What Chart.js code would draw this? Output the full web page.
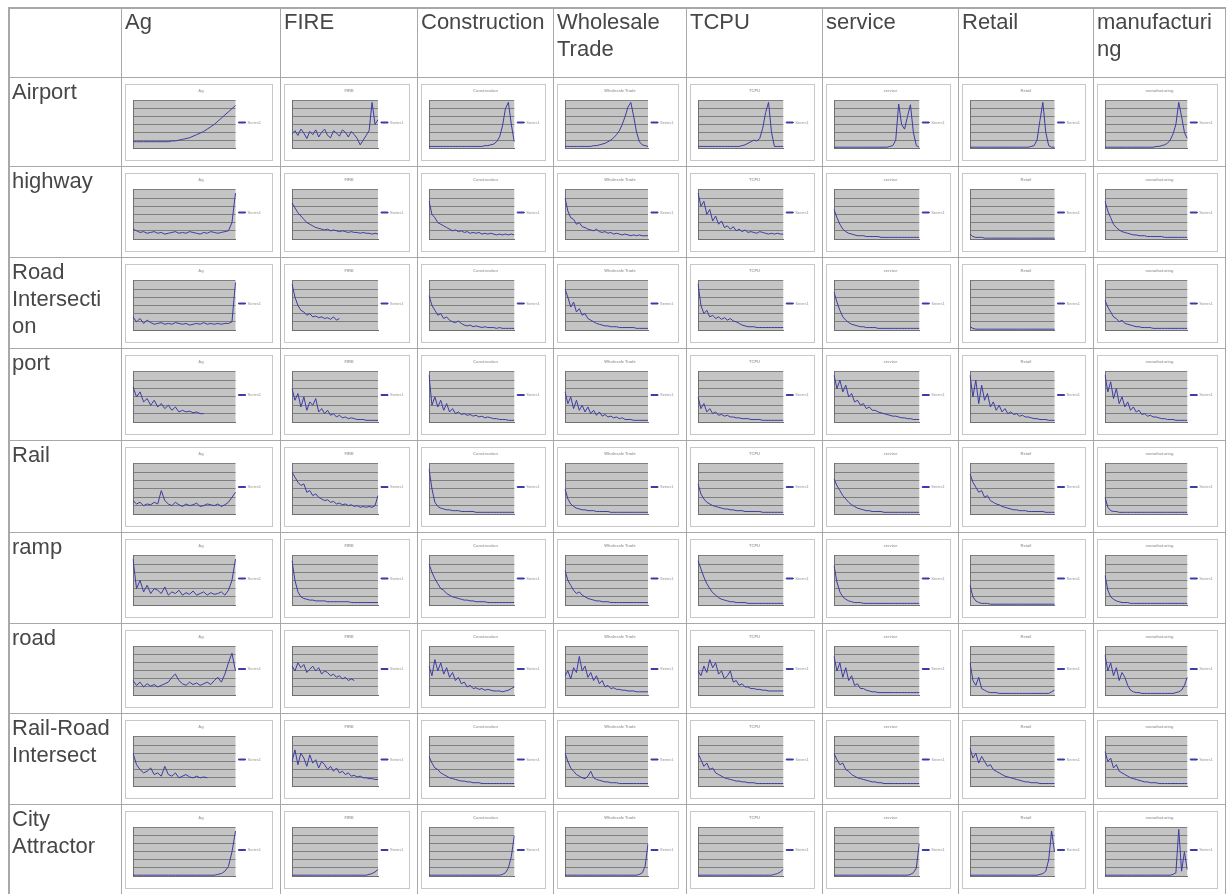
<!DOCTYPE html>
<html><head><meta charset="utf-8">
<script src="https://cdn.jsdelivr.net/npm/chart.js@4.4.1/dist/chart.umd.min.js"></script>
<style>
html,body{margin:0;padding:0;background:#fff;}
body{width:1227px;height:894px;position:relative;overflow:hidden;font-family:"Liberation Sans",Arial,sans-serif;}
#page{position:absolute;left:0;top:0;width:1227px;height:894px;filter:blur(0.35px);}
.hl{position:absolute;height:1px;background:#a8a8a8;}
.vl{position:absolute;width:1px;background:#a8a8a8;}
.lbl{position:absolute;font-size:22px;line-height:27px;color:#474747;white-space:nowrap;}
.box{position:absolute;border:1px solid #c8c8c8;background:#fff;box-sizing:border-box;}
.box canvas{display:block;}
</style></head><body><div id="page"></div>
<script>
// ---- categories / labels ----
const columnNames = ['Ag','FIRE','Construction','Wholesale Trade','TCPU','service','Retail','manufacturing'];
const columnLines = [['Ag'],['FIRE'],['Construction'],['Wholesale','Trade'],['TCPU'],['service'],['Retail'],['manufacturi','ng']];
const rowNames = ['Airport','highway','Road Intersection','port','Rail','ramp','road','Rail-Road Intersect','City Attractor'];
const rowLines = [['Airport'],['highway'],['Road','Intersecti','on'],['port'],['Rail'],['ramp'],['road'],['Rail-Road','Intersect'],['City','Attractor']];
const xLabels = ['1','2','3','4','5','6','7','8','9','10','11','12','13','14','15','16','17','18','19','20','21','22','23','24','25','26','27','28','29','30'];
const yTicks = [0,10,20,30,40,50,60];

// ---- series values (one array per column, per row) ----
const airport = [
 [8,8,8,8,8,8,8,8,8,8,8,9,9,10,11,12,13,15,17,19,21,24,27,30,34,38,42,46,50,54],
 [18,22,16,24,19,12,21,17,23,14,20,24,16,13,22,19,15,23,20,14,21,17,12,4,10,16,22,58,30,36],
 [2,2,2,2,2,2,2,2,2,2,2,2,2,2,2,2,2,2,2,3,3,4,5,8,14,28,50,58,30,8],
 [2,2,2,2,2,2,2,2,2,2,3,3,4,5,6,8,10,13,17,22,30,40,52,58,40,20,8,4,3,2],
 [2,2,2,2,2,2,2,2,2,2,2,2,2,2,2,3,4,6,8,10,9,12,25,45,58,20,2,2,2,2],
 [1,1,1,1,1,1,1,1,1,1,1,1,1,1,1,1,1,1,1,2,3,10,56,30,24,40,55,20,3,1],
 [1,1,1,1,1,1,1,1,1,1,1,1,1,1,1,1,1,1,1,1,1,2,3,10,35,58,20,3,1,1],
 [1,1,1,1,1,1,1,1,1,1,1,1,1,1,1,1,1,1,2,2,3,4,6,10,18,30,58,40,20,12]
];
const highway = [
 [12,10,8,9,7,8,9,7,8,6,7,8,9,7,8,7,9,8,7,6,8,7,9,8,7,8,9,10,20,56],
 [44,38,32,28,24,20,18,16,14,13,12,11,12,10,11,10,9,10,9,8,9,8,8,7,8,7,7,6,7,6],
 [46,30,26,20,18,16,14,12,10,11,9,10,8,9,7,8,7,8,6,7,6,7,6,5,6,5,6,5,6,5],
 [50,34,26,24,18,20,15,14,12,11,10,12,9,8,9,7,8,6,7,6,5,6,5,4,5,4,5,4,4,4],
 [56,40,46,30,36,22,28,18,22,14,16,12,15,10,12,9,11,8,9,8,7,9,8,7,6,7,6,7,6,6],
 [36,26,18,12,9,7,6,5,4,4,4,3,3,3,3,3,2,2,2,2,2,2,2,2,2,2,2,2,2,2],
 [6,3,2,2,2,1,1,1,1,1,1,1,1,1,1,1,1,1,1,1,1,1,1,1,1,1,1,1,1,1],
 [46,34,26,18,14,11,9,8,7,6,5,5,4,4,4,3,3,3,3,3,3,2,2,2,2,2,2,2,2,2]
];
const roadIntersection = [
 [16,10,14,8,12,9,7,8,9,7,8,7,9,8,7,8,6,7,8,7,9,7,8,7,8,7,8,8,10,58],
 [56,40,30,24,22,18,20,16,17,15,16,14,15,13,16,12,14,null,null,null,null,null,null,null,null,null,null,null,null,null],
 [42,30,24,18,20,14,16,12,10,9,11,8,6,5,6,4,5,4,3,4,3,3,3,2,3,2,2,2,2,2],
 [50,40,28,34,22,26,18,20,14,12,10,8,7,6,5,5,4,4,4,3,3,3,3,3,3,2,2,2,2,2],
 [56,30,20,24,16,18,14,16,13,15,12,14,11,10,8,6,5,4,4,4,3,3,3,3,3,3,3,3,3,3],
 [46,34,24,16,12,9,7,6,5,4,4,3,3,3,3,2,2,2,2,2,2,2,2,2,2,2,2,2,2,2],
 [4,2,1,1,1,1,1,1,1,1,1,1,1,1,1,1,1,1,1,1,1,1,1,1,1,1,1,1,1,1],
 [36,28,22,16,14,10,12,8,7,6,5,4,4,3,3,3,3,2,2,2,2,2,2,2,2,2,2,2,2,2]
];
const port = [
 [42,30,36,24,28,20,26,18,22,16,20,14,18,12,14,12,13,11,12,10,10,null,null,null,null,null,null,null,null,null],
 [40,26,34,18,30,14,24,20,28,12,16,10,14,8,10,6,8,5,6,4,5,4,3,3,3,2,2,2,2,2],
 [56,20,30,18,26,14,22,12,16,10,12,9,10,8,9,7,8,6,7,5,6,5,4,4,3,3,3,2,2,2],
 [36,22,30,16,26,14,20,12,18,10,14,8,12,7,9,6,7,5,6,4,5,3,3,3,2,2,2,2,2,2],
 [30,16,22,12,16,10,12,8,9,7,8,6,6,5,5,4,4,4,3,3,3,3,2,2,2,2,2,2,2,2],
 [56,40,50,36,44,30,34,24,26,20,22,16,18,14,14,12,11,10,9,8,7,7,6,5,5,4,4,3,3,3],
 [56,30,50,22,44,26,34,18,24,14,20,12,16,10,12,9,10,7,8,6,6,5,4,4,3,3,3,2,2,2],
 [56,36,48,28,40,22,30,18,24,14,18,12,14,9,10,7,8,6,6,5,4,4,3,3,3,2,2,2,2,2]
];
const rail = [
 [16,12,14,10,12,11,14,12,28,16,12,10,14,11,9,12,10,11,13,9,10,12,11,10,12,9,11,14,20,26],
 [50,44,38,34,36,26,28,22,24,20,18,16,17,14,15,12,13,11,12,10,11,9,10,8,9,8,9,8,10,22],
 [54,30,14,9,7,6,5,5,4,4,4,3,3,3,3,3,2,2,2,2,2,2,2,2,2,2,2,2,2,2],
 [30,18,12,9,7,6,5,5,4,4,4,3,3,3,3,3,2,2,2,2,2,2,2,2,2,2,2,2,2,2],
 [36,24,18,14,12,10,9,8,7,6,6,5,5,4,4,4,3,3,3,3,3,3,2,2,2,2,2,2,2,2],
 [42,34,28,22,18,14,11,9,7,6,5,4,4,3,3,3,3,2,2,2,2,2,2,2,2,2,2,2,2,2],
 [48,38,32,26,28,20,22,16,14,12,11,9,8,7,6,5,5,4,4,4,3,3,3,3,3,3,2,2,2,2],
 [20,8,4,3,3,2,2,2,2,2,2,2,2,2,2,2,2,2,2,2,2,2,2,2,2,2,2,2,2,2]
];
const ramp = [
 [56,20,30,16,24,14,20,18,14,22,12,16,14,18,12,15,13,17,12,14,16,12,15,13,14,16,12,18,30,56],
 [54,30,16,10,8,7,6,6,5,5,5,5,4,4,4,4,4,4,4,4,3,3,3,3,3,3,3,3,3,3],
 [50,40,32,26,20,18,14,12,10,9,8,7,6,6,5,5,4,4,4,4,3,3,3,3,3,3,3,3,3,3],
 [42,30,24,18,14,16,12,10,8,7,6,5,5,4,4,4,3,3,3,3,3,3,3,3,3,3,3,3,3,3],
 [54,44,34,26,20,15,12,9,7,6,5,4,4,3,3,3,3,2,2,2,2,2,2,2,2,2,2,2,2,2],
 [48,28,16,10,7,5,4,3,3,3,2,2,2,2,2,2,2,2,2,2,2,2,2,2,2,2,2,2,2,2],
 [24,10,5,3,2,2,2,1,1,1,1,1,1,1,1,1,1,1,1,1,1,1,1,1,1,1,1,1,1,1],
 [36,18,10,7,5,4,3,3,3,2,2,2,2,2,2,2,2,2,2,2,2,2,2,2,2,2,2,2,2,2]
];
const road = [
 [18,12,16,10,14,11,13,10,12,14,16,22,26,18,14,12,16,13,15,12,14,16,13,18,22,16,26,40,52,30],
 [36,30,40,34,38,28,32,36,30,34,26,30,28,24,26,22,24,20,22,18,20,18,null,null,null,null,null,null,null,null],
 [36,24,44,30,40,26,34,22,28,18,22,14,16,10,12,8,9,7,8,6,7,6,5,5,5,4,5,6,8,10],
 [24,30,20,34,28,48,30,36,22,28,18,24,14,18,10,12,8,9,7,7,6,6,5,5,5,4,4,4,4,4],
 [30,24,36,28,44,34,40,26,30,20,24,30,16,18,12,14,10,10,8,8,7,7,6,6,5,5,5,5,5,5],
 [48,30,40,22,34,18,24,12,14,8,8,6,5,4,4,3,3,3,3,3,3,3,3,3,3,3,3,3,3,3],
 [40,18,12,22,8,6,4,3,3,3,2,2,2,2,2,2,2,2,2,2,2,2,2,2,2,2,2,2,4,6],
 [50,30,40,24,34,18,28,22,12,6,4,3,3,2,2,2,2,2,2,2,2,2,2,2,2,3,4,6,12,22]
];
const railRoadIntersect = [
 [40,26,20,16,18,22,14,16,12,24,14,12,16,10,12,14,11,10,12,10,11,10,null,null,null,null,null,null,null,null],
 [30,44,26,40,34,24,38,28,32,22,30,26,20,24,18,22,16,18,14,16,12,13,11,12,10,10,9,9,8,8],
 [36,28,22,20,16,14,12,10,9,8,7,6,6,5,5,4,4,4,3,3,3,3,3,3,3,3,3,3,3,3],
 [40,30,22,18,14,12,10,9,12,18,10,8,7,6,5,5,4,4,4,3,3,3,3,3,3,3,3,3,3,3],
 [40,32,24,28,20,22,16,14,12,10,9,8,7,6,6,5,5,4,4,4,3,3,3,3,3,3,3,3,3,3],
 [40,32,26,28,20,18,14,12,10,9,8,7,6,5,5,4,4,3,3,3,3,3,3,3,3,3,3,3,3,3],
 [46,34,40,28,36,30,24,26,20,18,16,14,12,11,10,9,8,7,6,5,5,4,4,4,3,3,3,3,3,3],
 [42,30,34,22,26,18,16,14,12,10,9,8,7,6,5,5,4,4,4,3,3,3,3,3,3,3,3,3,3,3]
];
const cityAttractor = [
 [1,1,1,1,1,1,1,1,1,1,1,1,1,1,1,1,1,1,1,1,1,1,1,1,2,3,6,12,30,56],
 [1,1,1,1,1,1,1,1,1,1,1,1,1,1,1,1,1,1,1,1,1,1,1,1,1,1,2,3,5,8],
 [1,1,1,1,1,1,1,1,1,1,1,1,1,1,1,1,1,1,1,1,1,1,1,1,1,2,4,10,24,50],
 [1,1,1,1,1,1,1,1,1,1,1,1,1,1,1,1,1,1,1,1,1,1,1,1,1,1,2,4,12,40],
 [1,1,1,1,1,1,1,1,1,1,1,1,1,1,1,1,1,1,1,1,1,1,1,1,1,1,2,3,5,8],
 [1,1,1,1,1,1,1,1,1,1,1,1,1,1,1,1,1,1,1,1,1,1,1,1,1,1,2,4,10,40],
 [1,1,1,1,1,1,1,1,1,1,1,1,1,1,1,1,1,1,1,1,1,1,1,1,2,3,6,20,56,30],
 [1,1,1,1,1,1,1,1,1,1,1,1,1,1,1,1,1,1,1,1,1,1,1,1,2,4,58,6,30,8]
];
const tableRows = [airport, highway, roadIntersection, port, rail, ramp, road, railRoadIntersect, cityAttractor];

// ---- layout ----
const colX = [8,121,280,417,553,686,822,958,1093,1225];
const rowY = [7,77,166,257,348,440,532,623,713,804,894];

Chart.defaults.font.family = '"Liberation Sans", Arial, sans-serif';
const page = document.getElementById('page');
function el(cls, css){ const d=document.createElement('div'); d.className=cls; Object.assign(d.style, css); page.appendChild(d); return d; }

// grid lines of the table
colX.forEach((x,i)=>el('vl',{left:x+'px',top:'7px',height:'887px',width:(i===0?'2px':'1px')}));
rowY.forEach((y,i)=>el('hl',{top:y+'px',left:'8px',width:'1218px',height:(i===0?'2px':'1px')}));

// header texts
columnLines.forEach((lines,c)=>{ const d=el('lbl',{left:(colX[c+1]+4)+'px',top:'8px'}); d.innerHTML=lines.join('<br>'); });
rowLines.forEach((lines,r)=>{ const d=el('lbl',{left:'12px',top:(rowY[r+1]+1)+'px'}); d.innerHTML=lines.join('<br>'); });

const plotBg = { id:'plotBg', beforeDraw(chart){ const a=chart.chartArea, ctx=chart.ctx; if(!a) return; ctx.save(); ctx.fillStyle='#c4c4c4'; ctx.fillRect(a.left,a.top,a.right-a.left,a.bottom-a.top); ctx.restore(); } };

tableRows.forEach((rowSeries,r)=>{
  rowSeries.forEach((series,c)=>{
    const left=colX[c+1]+4, top=rowY[r+1]+7;
    const w=colX[c+2]-colX[c+1]-11, h=rowY[r+2]-rowY[r+1]-12;
    const box=el('box',{left:left+'px',top:top+'px',width:w+'px',height:h+'px'});
    const cv=document.createElement('canvas'); cv.width=w-2; cv.height=h-2; box.appendChild(cv);
    new Chart(cv,{
      type:'line',
      data:{labels:xLabels,datasets:[{label:'Series1',data:series,borderColor:'#3c3ca4',backgroundColor:'#3c3ca4',borderWidth:1,pointRadius:0,tension:0,fill:false}]},
      options:{
        responsive:false, animation:false, devicePixelRatio:1, events:[],
        layout:{padding:{left:6,right:2,top:0,bottom:0}},
        plugins:{
          title:{display:true,text:columnNames[c],color:'#a4a4a4',font:{size:4},padding:{top:3,bottom:8}},
          legend:{display:true,position:'right',labels:{boxWidth:7,boxHeight:1,padding:3,color:'#959595',font:{size:4}}},
          tooltip:{enabled:false}
        },
        scales:{
          x:{grid:{display:false},border:{display:true,color:'#707070'},ticks:{display:false},afterFit(s){s.height=12;}},
          y:{min:yTicks[0],max:yTicks[yTicks.length-1],ticks:{stepSize:yTicks[1]-yTicks[0],display:false},grid:{color:'#7e7e7e',drawTicks:false},border:{display:true,color:'#707070'},afterFit(s){s.width=1;}}
        }
      },
      plugins:[plotBg]
    });
  });
});
</script>
</body></html>
